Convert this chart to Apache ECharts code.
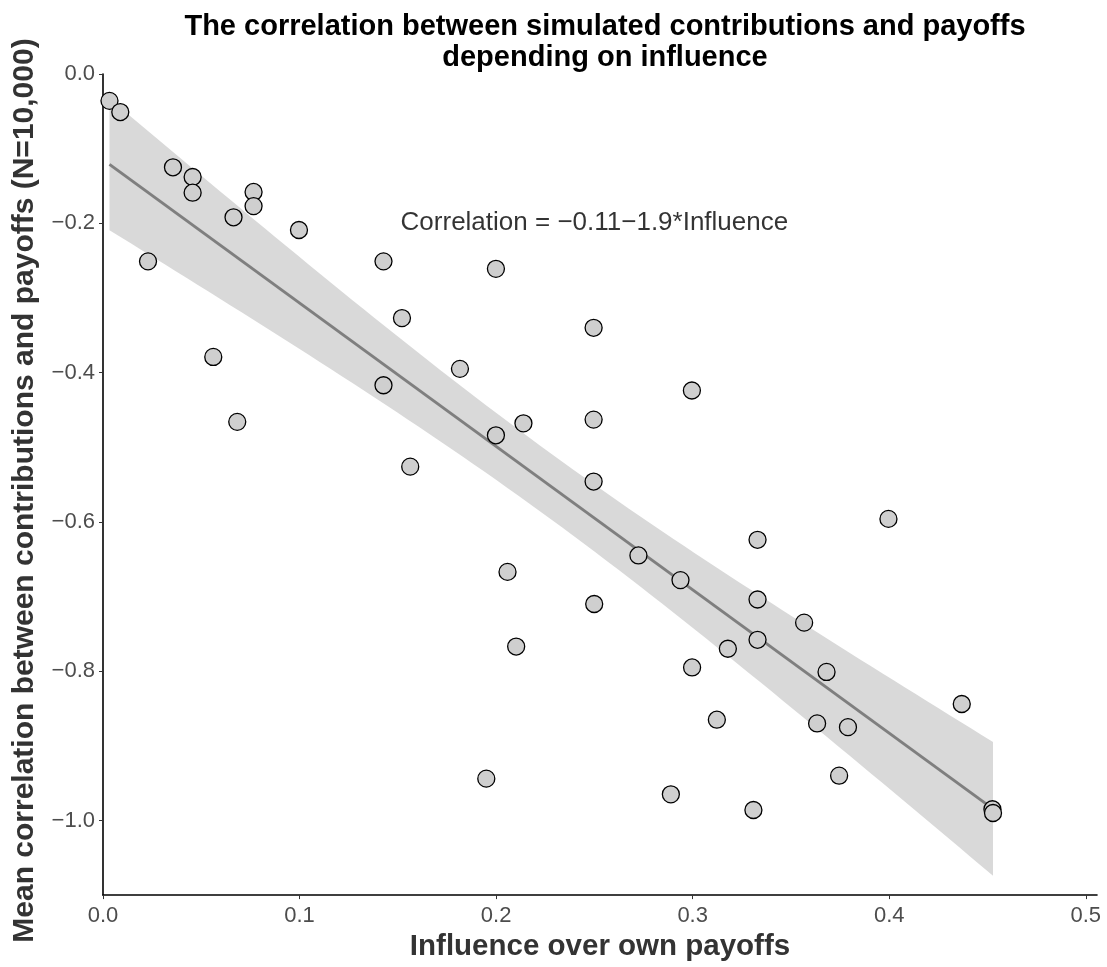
<!DOCTYPE html>
<html>
<head>
<meta charset="utf-8">
<script src="https://cdn.jsdelivr.net/npm/echarts@6/dist/echarts.min.js"></script>
<style>html,body{margin:0;padding:0;background:#fff}#c{width:1107px;height:967px}</style>
</head>
<body>
<div id="c"></div>
<script>
// Influence over own payoffs (x) and mean correlation (y)
const influence = [0.0033,0.0088,0.0229,0.0356,0.0456,0.0456,0.0561,0.0664,0.0683,0.0766,0.0766,0.0997,
  0.1427,0.1427,0.1521,0.1563,0.1816,0.195,0.1999,0.1999,0.2058,0.2102,0.2139,0.2496,0.2496,0.2496,0.2499,
  0.2724,0.2889,0.2938,0.2996,0.2997,0.3123,0.3179,0.3309,0.333,0.333,0.333,0.3567,0.3633,0.3681,0.3745,
  0.379,0.3996,0.4369,0.4525,0.4528];
const correlation = [-0.036,-0.051,-0.251,-0.125,-0.138,-0.159,-0.379,-0.192,-0.466,-0.158,-0.177,-0.209,
  -0.251,-0.417,-0.327,-0.526,-0.395,-0.944,-0.261,-0.484,-0.667,-0.767,-0.468,-0.340,-0.463,-0.546,-0.710,
  -0.645,-0.965,-0.678,-0.424,-0.795,-0.865,-0.770,-0.986,-0.624,-0.704,-0.758,-0.735,-0.870,-0.801,-0.940,
  -0.875,-0.596,-0.844,-0.985,-0.990];
const xTicks = [0, 0.1, 0.2, 0.3, 0.4, 0.5];
const yTicks = [0, -0.2, -0.4, -0.6, -0.8, -1.0];
const annotationText = 'Correlation = \u22120.11\u22121.9*Influence';
const titleText = 'The correlation between simulated contributions and payoffs\ndepending on influence';
const xName = 'Influence over own payoffs';
const yName = 'Mean correlation between contributions and payoffs (N=10,000)';

// OLS fit with 95% confidence band (as geom_smooth(method="lm"))
const n = influence.length;
const mx = influence.reduce((a,b)=>a+b,0)/n;
const my = correlation.reduce((a,b)=>a+b,0)/n;
let sxx=0, sxy=0;
for (let i=0;i<n;i++){ sxx+=(influence[i]-mx)**2; sxy+=(influence[i]-mx)*(correlation[i]-my); }
const slope = sxy/sxx, icpt = my - slope*mx;
let sse=0;
for (let i=0;i<n;i++){ sse+=(correlation[i]-icpt-slope*influence[i])**2; }
const s = Math.sqrt(sse/(n-2));
const tval = 2.014;
const xmin = Math.min(...influence), xmax = Math.max(...influence);
const bandUpper=[], bandLower=[];
const steps = 80;
for (let k=0;k<=steps;k++){
  const x = xmin + (xmax-xmin)*k/steps;
  const yh = icpt + slope*x;
  const se = s*Math.sqrt(1/n + (x-mx)**2/sxx);
  bandUpper.push([x, yh + tval*se]);
  bandLower.push([x, yh - tval*se]);
}
const fitLine = [[xmin, icpt+slope*xmin],[xmax, icpt+slope*xmax]];
const points = influence.map((x,i)=>[x, correlation[i]]);

const fmt = v => (v < 0 ? '\u2212' : '') + Math.abs(v).toFixed(1);
const FONT = '"Liberation Sans", Arial, Helvetica, sans-serif';

const chart = echarts.init(document.getElementById('c'), null, {renderer:'canvas'});
chart.setOption({
  backgroundColor:'#ffffff',
  animation:false,
  title:{
    text:titleText, left:600, top:6, textAlign:'center',
    textStyle:{fontFamily:FONT, fontWeight:'bold', fontSize:29, color:'#000', lineHeight:31}
  },
  grid:{left:103, right:10, top:74, bottom:69, containLabel:false},
  xAxis:{
    type:'value', min:0, max:0.5057,
    name:xName, nameLocation:'middle', nameGap:35,
    nameTextStyle:{fontFamily:FONT, fontWeight:'bold', fontSize:29.5, color:'#333'},
    axisLine:{show:true, onZero:false, lineStyle:{color:'#000', width:1.6}},
    axisTick:{show:true, length:4, customValues:xTicks, lineStyle:{color:'#333', width:1}},
    axisLabel:{customValues:xTicks, formatter:fmt, margin:10, fontFamily:FONT, fontSize:22, color:'#4d4d4d'},
    splitLine:{show:false}
  },
  yAxis:{
    type:'value', min:-1.1, max:0,
    name:yName, nameLocation:'middle', nameGap:63,
    nameTextStyle:{fontFamily:FONT, fontWeight:'bold', fontSize:30, color:'#333', padding:[0,12,0,0]},
    axisLine:{show:true, onZero:false, lineStyle:{color:'#000', width:1.6}},
    axisTick:{show:true, length:4, customValues:yTicks, lineStyle:{color:'#333', width:1}},
    axisLabel:{customValues:yTicks, formatter:fmt, margin:8, fontFamily:FONT, fontSize:22, color:'#4d4d4d'},
    splitLine:{show:false}
  },
  series:[
    {
      type:'custom', z:1, silent:true,
      data:[[0,0]],
      renderItem:function(params, api){
        const pts = bandUpper.map(p=>api.coord(p)).concat(bandLower.slice().reverse().map(p=>api.coord(p)));
        return {type:'polygon', shape:{points:pts}, style:{fill:'#d9d9d9'}};
      }
    },
    {
      type:'line', z:2, data:fitLine, symbol:'none', silent:true,
      lineStyle:{color:'#7f7f7f', width:3}
    },
    {
      type:'scatter', z:3, data:points, symbol:'circle', symbolSize:17,
      itemStyle:{color:'#cfcfcf', borderColor:'#000', borderWidth:1.3, opacity:1}
    },
    {
      type:'scatter', z:4, data:[[0.25,-0.2]], symbolSize:0, silent:true,
      label:{show:true, position:'inside', formatter:annotationText,
        fontFamily:FONT, fontSize:26, color:'#000'}
    }
  ]
});
</script>
</body>
</html>
